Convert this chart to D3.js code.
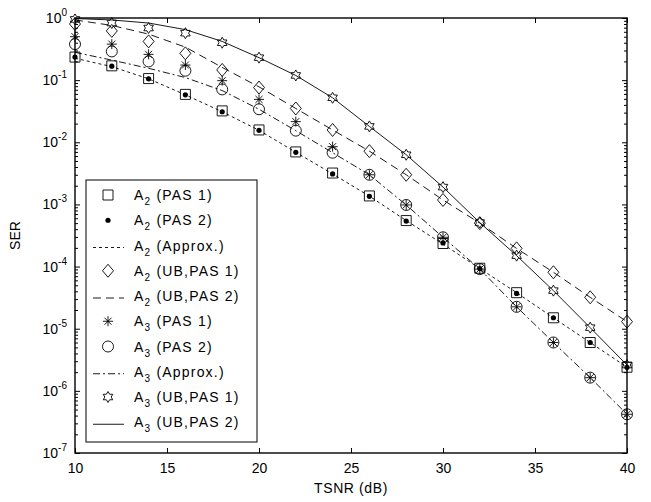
<!DOCTYPE html>
<html>
<head>
<meta charset="utf-8">
<script src="https://cdn.jsdelivr.net/npm/d3@7"></script>
<style>
  body { margin: 0; background: #fff; }
  svg text { font-family: "Liberation Sans", Arial, Helvetica, sans-serif; fill: #000; }
</style>
</head>
<body>
<svg id="chart" width="651" height="502"></svg>
<script>
// data
const snr = [10, 12, 14, 16, 18, 20, 22, 24, 26, 28, 30, 32, 34, 36, 38, 40];

const a2Pas1 = [0.235, 0.17, 0.106, 0.059, 0.032, 0.0158, 0.0070, 0.0032, 0.00137, 5.5e-4, 2.35e-4, 9.4e-5, 3.8e-5, 1.5e-5, 6.0e-6, 2.4e-6];
const a2Pas2 = [0.235, 0.168, 0.105, 0.058, 0.031, 0.0156, 0.0069, 0.0031, 0.00135, 5.4e-4, 2.4e-4, 9.3e-5, 3.7e-5, 1.5e-5, 6.0e-6, 2.4e-6];
const a2Approx = [0.225, 0.165, 0.105, 0.058, 0.031, 0.0156, 0.0069, 0.0031, 0.00136, 5.5e-4, 2.3e-4, 9.3e-5, 3.8e-5, 1.5e-5, 6.0e-6, 2.4e-6];
const a2UbPas1 = [0.80, 0.62, 0.42, 0.27, 0.146, 0.076, 0.035, 0.0158, 0.0072, 0.0030, 0.00118, 5.0e-4, 1.96e-4, 8.1e-5, 3.2e-5, 1.3e-5];
const a2UbPas2 = [0.93, 0.76, 0.55, 0.34, 0.16, 0.078, 0.035, 0.0158, 0.0072, 0.0030, 0.00118, 5.0e-4, 1.96e-4, 8.1e-5, 3.2e-5, 1.3e-5];
const a3Pas1 = [0.50, 0.38, 0.26, 0.175, 0.098, 0.049, 0.0215, 0.0085, 0.0030, 9.8e-4, 2.96e-4, 9.1e-5, 2.25e-5, 6.0e-6, 1.63e-6, 4.2e-7];
const a3Pas2 = [0.38, 0.29, 0.20, 0.142, 0.071, 0.034, 0.0154, 0.0068, 0.0030, 9.8e-4, 2.96e-4, 9.1e-5, 2.25e-5, 6.0e-6, 1.63e-6, 4.2e-7];
const a3Approx = [0.28, 0.21, 0.155, 0.11, 0.068, 0.034, 0.0154, 0.0068, 0.0030, 9.8e-4, 2.96e-4, 9.1e-5, 2.25e-5, 6.0e-6, 1.63e-6, 4.2e-7];
const a3UbPas1 = [0.95, 0.83, 0.69, 0.57, 0.40, 0.23, 0.119, 0.052, 0.018, 0.0063, 0.0019, 5.1e-4, 1.5e-4, 4.1e-5, 1.04e-5, 2.6e-6];
const a3UbPas2 = [0.98, 0.93, 0.83, 0.65, 0.42, 0.23, 0.119, 0.052, 0.018, 0.0063, 0.0019, 5.1e-4, 1.5e-4, 4.1e-5, 1.04e-5, 2.6e-6];

const xTicks = [10, 15, 20, 25, 30, 35, 40];
const yExponents = [0, -1, -2, -3, -4, -5, -6, -7];

// series: sub = A subscript, lab = rest of legend label
const series = [
  { sub: "2", lab: " (PAS 1)", values: a2Pas1, marker: "square" },
  { sub: "2", lab: " (PAS 2)", values: a2Pas2, marker: "dot" },
  { sub: "2", lab: " (Approx.)", values: a2Approx, dash: "3,3" },
  { sub: "2", lab: " (UB,PAS 1)", values: a2UbPas1, marker: "diamond" },
  { sub: "2", lab: " (UB,PAS 2)", values: a2UbPas2, dash: "8,5" },
  { sub: "3", lab: " (PAS 1)", values: a3Pas1, marker: "asterisk" },
  { sub: "3", lab: " (PAS 2)", values: a3Pas2, marker: "circle" },
  { sub: "3", lab: " (Approx.)", values: a3Approx, dash: "7,3,2,3" },
  { sub: "3", lab: " (UB,PAS 1)", values: a3UbPas1, marker: "hexagram" },
  { sub: "3", lab: " (UB,PAS 2)", values: a3UbPas2, dash: null }
];

const margin = { top: 18, right: 24, bottom: 49, left: 75 };
const W = 651, H = 502;
const svg = d3.select("#chart");

const x = d3.scaleLinear().domain([10, 40]).range([margin.left, W - margin.right]);
const y = d3.scaleLog().domain([1e-7, 1]).range([H - margin.bottom, margin.top]);

const majors = yExponents.map((e) => Math.pow(10, e));
const minors = [];
for (let e = -7; e < 0; e++) {
  for (let m = 2; m <= 9; m++) minors.push(m * Math.pow(10, e));
}

svg.append("defs").append("clipPath").attr("id", "plotclip")
  .append("rect")
  .attr("x", margin.left).attr("y", margin.top)
  .attr("width", W - margin.left - margin.right)
  .attr("height", H - margin.top - margin.bottom);

// axes, ticks pointing inwards
const axisStyle = (g) => {
  g.select(".domain").remove();
  g.selectAll(".tick line").attr("stroke", "#000").attr("stroke-width", 1);
};

svg.append("g")
  .attr("transform", `translate(0,${H - margin.bottom})`)
  .call(d3.axisBottom(x).tickValues(xTicks).tickSize(-5).tickSizeOuter(0).tickPadding(10).tickFormat(d3.format("d")))
  .call(axisStyle)
  .call((g) => g.selectAll("text").attr("font-size", 14).attr("font-family", "Liberation Sans, Arial, sans-serif"));

svg.append("g")
  .attr("transform", `translate(0,${margin.top})`)
  .call(d3.axisTop(x).tickValues(xTicks).tickSize(-5).tickSizeOuter(0).tickFormat(""))
  .call(axisStyle);

svg.append("g")
  .attr("transform", `translate(${margin.left},0)`)
  .call(d3.axisLeft(y).tickValues(majors).tickSize(-5).tickSizeOuter(0).tickFormat(""))
  .call(axisStyle);
svg.append("g")
  .attr("transform", `translate(${margin.left},0)`)
  .call(d3.axisLeft(y).tickValues(minors).tickSize(-3).tickSizeOuter(0).tickFormat(""))
  .call(axisStyle);
svg.append("g")
  .attr("transform", `translate(${W - margin.right},0)`)
  .call(d3.axisRight(y).tickValues(majors).tickSize(-5).tickSizeOuter(0).tickFormat(""))
  .call(axisStyle);
svg.append("g")
  .attr("transform", `translate(${W - margin.right},0)`)
  .call(d3.axisRight(y).tickValues(minors).tickSize(-3).tickSizeOuter(0).tickFormat(""))
  .call(axisStyle);

// y tick labels 10^e
yExponents.forEach((e) => {
  const t = svg.append("text")
    .attr("x", margin.left - 8)
    .attr("y", y(Math.pow(10, e)) + 5)
    .attr("text-anchor", "end")
    .attr("font-size", 14);
  t.append("tspan").text("10");
  t.append("tspan").attr("dy", -7).attr("font-size", 10).text(e);
});

// frame
svg.append("rect")
  .attr("x", margin.left).attr("y", margin.top)
  .attr("width", W - margin.left - margin.right)
  .attr("height", H - margin.top - margin.bottom)
  .attr("fill", "none").attr("stroke", "#000").attr("stroke-width", 1.4);

// axis titles
svg.append("text")
  .attr("x", x(25)).attr("y", 493)
  .attr("text-anchor", "middle").attr("font-size", 14).attr("letter-spacing", 0.6)
  .text("TSNR (dB)");
svg.append("text")
  .attr("transform", `translate(20,${(margin.top + H - margin.bottom) / 2}) rotate(-90)`)
  .attr("text-anchor", "middle").attr("font-size", 14)
  .text("SER");

// marker shapes
function markerPath(type, cx, cy) {
  const p = d3.path();
  if (type === "square") {
    p.rect(cx - 5, cy - 5, 10, 10);
  } else if (type === "diamond") {
    p.moveTo(cx, cy - 6.5); p.lineTo(cx + 5.5, cy); p.lineTo(cx, cy + 6.5); p.lineTo(cx - 5.5, cy); p.closePath();
  } else if (type === "circle") {
    p.moveTo(cx + 5.5, cy); p.arc(cx, cy, 5.5, 0, 2 * Math.PI);
  } else if (type === "asterisk") {
    const r = 5;
    for (let k = 0; k < 4; k++) {
      const a = (k * Math.PI) / 4;
      p.moveTo(cx - r * Math.cos(a), cy - r * Math.sin(a));
      p.lineTo(cx + r * Math.cos(a), cy + r * Math.sin(a));
    }
  } else if (type === "hexagram") {
    const ro = 5.5, ri = 3.2;
    for (let k = 0; k < 12; k++) {
      const a = -Math.PI / 2 + (k * Math.PI) / 6;
      const r = k % 2 === 0 ? ro : ri;
      if (k === 0) p.moveTo(cx + r * Math.cos(a), cy + r * Math.sin(a));
      else p.lineTo(cx + r * Math.cos(a), cy + r * Math.sin(a));
    }
    p.closePath();
  }
  return p.toString();
}

const line = d3.line().x((d) => x(d[0])).y((d) => y(d[1]));
const plot = svg.append("g").attr("clip-path", "url(#plotclip)");

// lines first, then markers
series.filter((s) => !s.marker).forEach((s) => {
  plot.append("path")
    .datum(snr.map((v, i) => [v, s.values[i]]))
    .attr("d", line)
    .attr("fill", "none")
    .attr("stroke", "#000")
    .attr("stroke-width", 0.9)
    .attr("stroke-dasharray", s.dash);
});

series.filter((s) => s.marker).forEach((s) => {
  const pts = snr.map((v, i) => [v, s.values[i]]);
  if (s.marker === "dot") {
    svg.append("g").selectAll("circle").data(pts).join("circle")
      .attr("cx", (d) => x(d[0])).attr("cy", (d) => y(d[1]))
      .attr("r", 2.6).attr("fill", "#000");
  } else {
    svg.append("g").selectAll("path").data(pts).join("path")
      .attr("d", (d) => markerPath(s.marker, x(d[0]), y(d[1])))
      .attr("fill", "none").attr("stroke", "#000").attr("stroke-width", 0.9);
  }
});

// legend
const lg = svg.append("g");
const lgX = 86, lgY = 180, lgW = 171, lgH = 262;
lg.append("rect")
  .attr("x", lgX).attr("y", lgY).attr("width", lgW).attr("height", lgH)
  .attr("fill", "#fff").attr("stroke", "#000").attr("stroke-width", 1);

series.forEach((s, i) => {
  const cy = 195 + i * 25.25;
  if (s.marker === "dot") {
    lg.append("circle").attr("cx", 108).attr("cy", cy).attr("r", 2.6).attr("fill", "#000");
  } else if (s.marker) {
    lg.append("path").attr("d", markerPath(s.marker, 108, cy))
      .attr("fill", "none").attr("stroke", "#000").attr("stroke-width", 0.9);
  } else {
    lg.append("line")
      .attr("x1", 93).attr("x2", 124).attr("y1", cy + 2).attr("y2", cy + 2)
      .attr("stroke", "#000").attr("stroke-width", 0.9)
      .attr("stroke-dasharray", s.dash);
  }
  const t = lg.append("text")
    .attr("x", 134).attr("y", cy + 5)
    .attr("font-size", 14).attr("letter-spacing", 1.2);
  t.append("tspan").text("A");
  t.append("tspan").attr("dy", 5).attr("font-size", 10).text(s.sub);
  t.append("tspan").attr("dy", -5).text(s.lab);
});
</script>
</body>
</html>
